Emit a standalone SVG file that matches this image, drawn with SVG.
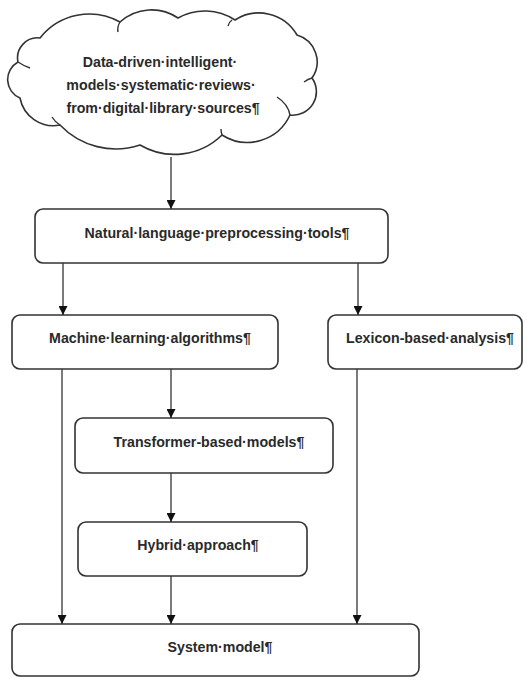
<svg xmlns="http://www.w3.org/2000/svg" width="531" height="677" viewBox="0 0 531 677">
<defs>
<style>
.box{fill:#fff;stroke:#333;stroke-width:1.6}
.cl{fill:#fff;stroke:#333;stroke-width:1.6;stroke-linejoin:round}
.curl{fill:none;stroke:#333;stroke-width:1.4}
.t{font-family:"Liberation Sans",Arial,sans-serif;font-weight:bold;font-size:14.2px;fill:#2a2a2a;text-anchor:middle}
.c{stroke:#333;stroke-width:1.3;fill:none;marker-end:url(#ah)}
</style>
<marker id="ah" viewBox="0 0 10 10" refX="10" refY="5" markerWidth="9" markerHeight="9" markerUnits="userSpaceOnUse" orient="auto">
<path d="M0,0 L10,5 L0,10 Z" fill="#111"/>
</marker>
</defs>
<rect width="531" height="677" fill="#fff"/>
<g id="cloud">
<path class="cl" d="M20,98 A20,20 0 0 1 18,62 A20,20 0 0 1 40,38 A63,63 0 0 1 120,22 A47,47 0 0 1 178,18 A55,55 0 0 1 235,20 A44,44 0 0 1 297,35 A28,28 0 0 1 312,78 A23.5,23.5 0 0 1 290,115 A47,47 0 0 1 222,135 A68,68 0 0 1 140,145 A77,77 0 0 1 60,125 A34,34 0 0 1 20,98 Z"/>
<path class="curl" d="M18,62 Q24,66 30,68"/>
<path class="curl" d="M120,22 Q117,27 118,32"/>
<path class="curl" d="M232,20 Q229,22 228,26"/>
<path class="curl" d="M312,78 Q308,79 304,82"/>
<path class="curl" d="M290,115 Q288,104 277,97"/>
<path class="curl" d="M222,135 Q221,132 221,129"/>
<path class="curl" d="M60,125 Q55,122 52,117"/>
<text class="t" x="160" y="67">Data-driven·intelligent·</text>
<text class="t" x="161" y="90">models·systematic·reviews·</text>
<text class="t" x="163" y="113">from·digital·library·sources¶</text>
</g>
<g id="nlp">
<rect class="box" x="35" y="209" width="353" height="54" rx="8"/>
<text class="t" x="217" y="238">Natural·language·preprocessing·tools¶</text>
</g>
<g id="ml">
<rect class="box" x="12" y="315" width="266" height="54" rx="8"/>
<text class="t" x="150" y="343">Machine·learning·algorithms¶</text>
</g>
<g id="lexicon">
<rect class="box" x="328" y="315" width="194" height="54" rx="8"/>
<text class="t" x="430" y="343">Lexicon-based·analysis¶</text>
</g>
<g id="transformer">
<rect class="box" x="75" y="418" width="258" height="55" rx="8"/>
<text class="t" x="209" y="447">Transformer-based·models¶</text>
</g>
<g id="hybrid">
<rect class="box" x="78" y="522" width="229" height="54" rx="8"/>
<text class="t" x="198" y="550">Hybrid·approach¶</text>
</g>
<g id="system">
<rect class="box" x="12" y="624" width="407" height="52" rx="8"/>
<text class="t" x="220" y="652">System·model¶</text>
</g>
<g id="connectors">
<line class="c" x1="171" y1="157" x2="171" y2="209"/>
<line class="c" x1="63" y1="263" x2="63" y2="315"/>
<line class="c" x1="358" y1="263" x2="358" y2="315"/>
<line class="c" x1="171" y1="369" x2="171" y2="418"/>
<line class="c" x1="171" y1="473" x2="171" y2="522"/>
<line class="c" x1="62" y1="369" x2="62" y2="624"/>
<line class="c" x1="171" y1="576" x2="171" y2="624"/>
<line class="c" x1="357" y1="369" x2="357" y2="624"/>
</g>
</svg>
